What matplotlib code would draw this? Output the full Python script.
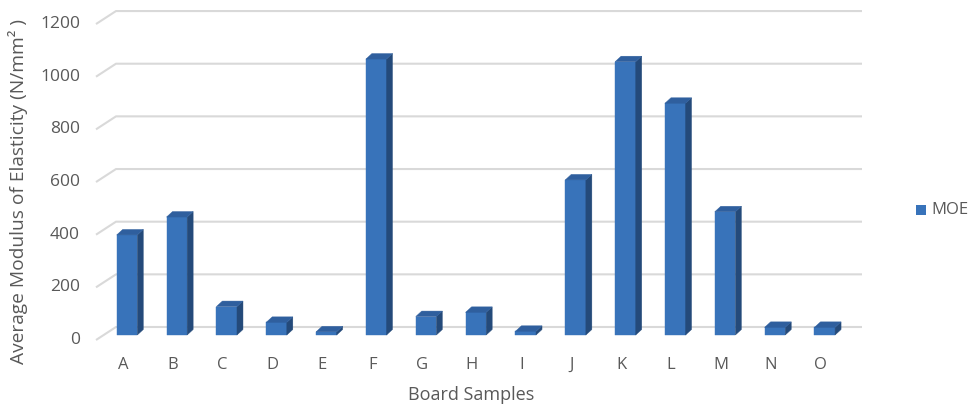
import matplotlib
matplotlib.use("Agg")
import matplotlib.pyplot as plt
from matplotlib.patches import Polygon

# Board sample data
samples = ["A", "B", "C", "D", "E", "F", "G", "H", "I", "J", "K", "L", "M", "N", "O"]
moe = [380, 448, 108, 48, 12, 1048, 70, 86, 14, 589, 1038, 880, 468, 29, 29]
y_ticks = [0, 200, 400, 600, 800, 1000, 1200]
series_name = "MOE"

plt.rcParams["font.family"] = ["Open Sans", "DejaVu Sans"]
TEXT = "#595959"
GRID = "#d9d9d9"
FRONT = "#3873ba"
SIDE = "#244a7a"
TOP = "#2f5f9e"

W, H = 969, 407
fig = plt.figure(figsize=(W / 100, H / 100), dpi=100)

# pixel geometry of the front plane
x0_px, step_px = 127.0, 49.84      # centre of first bar, spacing
y0_px, scale_px = 335.0, 0.2633    # baseline, pixels per unit
left_px, right_px, top_px, bot_px = 90, 870, 5, 350

ax = fig.add_axes([left_px / W, (H - bot_px) / H,
                   (right_px - left_px) / W, (bot_px - top_px) / H])
ax.set_xlim((left_px - x0_px) / step_px, (right_px - x0_px) / step_px)
ax.set_ylim((y0_px - bot_px) / scale_px, (y0_px - top_px) / scale_px)
ax.axis("off")

def dx(px):
    return px / step_px

def dy(px):
    return px / scale_px

# back wall grid lines with the slanted side-wall segment
back_shift = dy(y0_px - 327)       # back wall sits higher than bar fronts
front_shift = -dy(340 - y0_px)     # front edge of the side wall
gx_front = (96 - x0_px) / step_px
gx_back = (116 - x0_px) / step_px
gx_end = (862 - x0_px) / step_px
for v in y_ticks:
    ax.plot([gx_front, gx_back, gx_end],
            [v + front_shift, v + back_shift, v + back_shift],
            color=GRID, lw=1.5, zorder=1, solid_capstyle="butt")
    ax.text((80 - x0_px) / step_px, v + front_shift, f"{v}",
            ha="right", va="center", color=TEXT, fontsize=12.5, clip_on=False)

# 3D-look columns: front face from bar(), side and top faces added
bw = dx(20.6)
ddx, ddy = dx(6.0), dy(5.5)
xs = list(range(len(samples)))
ax.bar(xs, moe, width=bw, color=FRONT, zorder=3, label=series_name,
       edgecolor=FRONT, linewidth=0.3)
for x, name, v in zip(xs, samples, moe):
    r, l = x + bw / 2, x - bw / 2
    ax.add_patch(Polygon([(r, 0), (r + ddx, ddy), (r + ddx, v + ddy), (r, v)],
                         closed=True, facecolor=SIDE, edgecolor=SIDE,
                         lw=0.3, zorder=3))
    ax.add_patch(Polygon([(l, v), (r, v), (r + ddx, v + ddy), (l + ddx, v + ddy)],
                         closed=True, facecolor=TOP, edgecolor=TOP,
                         lw=0.3, zorder=3))
    ax.text(x - dx(4), dy(y0_px - 365), name, ha="center",
            va="center", color=TEXT, fontsize=12, clip_on=False)

fig.text(471 / W, 1 - 395 / H, "Board Samples", ha="center", va="center",
         color=TEXT, fontsize=13)
fig.text(18 / W, 1 - 191 / H, "Average Modulus of Elasticity (N/mm² )",
         ha="center", va="center", rotation=90, color=TEXT, fontsize=13.8)

# legend
fig.patches.append(plt.Rectangle((916 / W, 1 - 215 / H), 10 / W, 10 / H,
                                 transform=fig.transFigure, facecolor=FRONT,
                                 edgecolor="none"))
fig.text(931 / W, 1 - 210 / H, series_name, ha="left", va="center",
         color=TEXT, fontsize=12)

fig.savefig("out.png", dpi=100)
